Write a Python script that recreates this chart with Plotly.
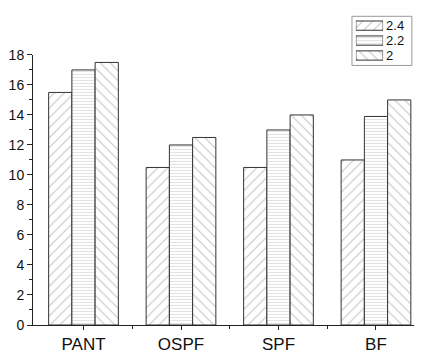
import plotly.graph_objects as go

categories = ["PANT", "OSPF", "SPF", "BF"]
series_names = ["2.4", "2.2", "2"]
values_24 = [15.5, 10.5, 10.5, 11.0]
values_22 = [17.0, 12.0, 13.0, 13.9]
values_2 = [17.5, 12.5, 14.0, 15.0]
y_ticks = [0, 2, 4, 6, 8, 10, 12, 14, 16, 18]

positions = list(range(len(categories)))
series = [values_24, values_22, values_2]
shapes = ["/", "-", "\\"]
sizes = [7, 3, 7]
fgs = ["#888888", "#777777", "#888888"]


def pat(shp, sz, fg):
    return dict(color="white", line=dict(color="#333333", width=1),
                pattern=dict(shape=shp, size=sz, solidity=0.15,
                             fgcolor=fg, bgcolor="white"))


fig = go.Figure()
for name, vals, shp, sz, fg in zip(series_names, series, shapes, sizes, fgs):
    fig.add_trace(go.Bar(x=positions, y=vals, name=name, marker=pat(shp, sz, fg),
                         showlegend=False))

# legend drawn as an inset of horizontal swatch bars
for name, shp, sz, fg in zip(series_names, shapes, sizes, fgs):
    fig.add_trace(go.Bar(x=[1], y=[name], orientation="h", marker=pat(shp, sz, fg),
                         xaxis="x2", yaxis="y2", showlegend=False,
                         hoverinfo="skip", width=0.62))

fig.update_layout(
    width=414, height=346,
    margin=dict(l=25, r=0, t=4, b=24),
    paper_bgcolor="white", plot_bgcolor="white",
    barmode="group", bargap=0.285, bargroupgap=0,
    font=dict(family="Liberation Sans, Arial, sans-serif", color="#111111", size=13),
    showlegend=False,
    xaxis=dict(range=[-0.518, 3.472], tickmode="array", tickvals=positions,
               ticktext=categories, showline=True, linecolor="#222222",
               linewidth=1, ticks="outside", ticklen=4, tickcolor="#222222",
               showgrid=False, zeroline=False, tickfont=dict(size=17),
               minor=dict(tickmode="array", tickvals=[0.5, 1.5, 2.5],
                          ticks="outside", ticklen=3, tickcolor="#222222")),
    yaxis=dict(domain=[0, 0.874], range=[0, 18], tickmode="array", tickvals=y_ticks,
               showline=True, linecolor="#222222", linewidth=1,
               ticks="outside", ticklen=5, tickcolor="#222222",
               showgrid=False, zeroline=False, tickfont=dict(size=14),
               minor=dict(dtick=1, ticks="outside", ticklen=3,
                          tickcolor="#222222", showgrid=False)),
    xaxis2=dict(domain=[0.830, 0.900], range=[0, 1], visible=False,
                anchor="y2", fixedrange=True),
    yaxis2=dict(domain=[0.848, 0.993], anchor="x2", side="right", type="category",
                tickmode="array", tickvals=series_names, ticktext=series_names,
                autorange="reversed", showline=False, showgrid=False,
                zeroline=False, ticks="", tickfont=dict(size=13),
                ticklabelstandoff=2, fixedrange=True),
    shapes=[dict(type="rect", xref="paper", yref="paper",
                 x0=0.820, x1=0.974, y0=0.840, y1=0.999,
                 line=dict(color="#999999", width=1), fillcolor="rgba(0,0,0,0)",
                 layer="below")],
)

fig.write_html("out.html")
